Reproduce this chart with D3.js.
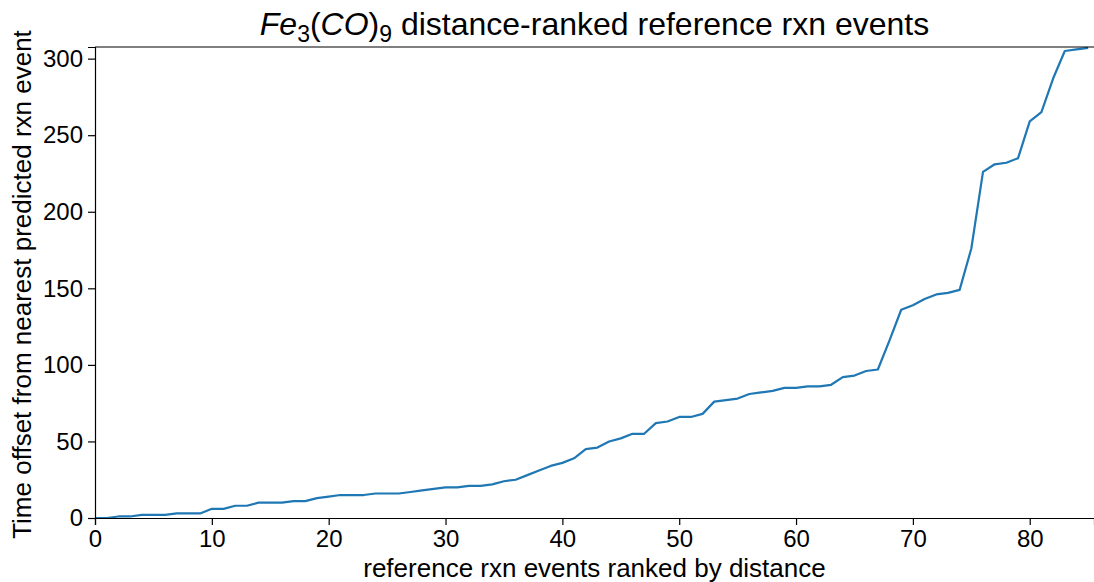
<!DOCTYPE html>
<html>
<head>
<meta charset="utf-8">
<script src="https://cdn.jsdelivr.net/npm/d3@7"></script>
<style>
  body { margin: 0; background: #fff; }
  svg { font-family: "Liberation Sans", Arial, sans-serif; }
</style>
</head>
<body>
<script>
const w = 1094;
const h = 582;

// time offsets, one per ranked reference event (index = rank)
const offsets = [
  0, 0, 1, 1, 2, 2, 2, 3, 3, 3,
  6, 6, 8, 8, 10, 10, 10, 11, 11, 13,
  14, 15, 15, 15, 16, 16, 16, 17, 18, 19,
  20, 20, 21, 21, 22, 24, 25, 28, 31, 34,
  36, 39, 45, 46, 50, 52, 55, 55, 62, 63,
  66, 66, 68, 76, 77, 78, 81, 82, 83, 85,
  85, 86, 86, 87, 92, 93, 96, 97, 116, 136,
  139, 143, 146, 147, 149, 176, 226, 231, 232, 235,
  259, 265, 287, 305, 306, 307
];
const xTicks = [0, 10, 20, 30, 40, 50, 60, 70, 80];
const yTicks = [0, 50, 100, 150, 200, 250, 300];

const data = offsets.map((v, i) => ({ rank: i, offset: v }));

const margin = { top: 47, right: 0, bottom: 64, left: 95 };

const svg = d3
  .select("body")
  .append("svg")
  .attr("width", w)
  .attr("height", h);

const xScale = d3
  .scaleLinear()
  .domain([0, 85.5])
  .range([margin.left, w - margin.right]);
const yScale = d3
  .scaleLinear()
  .domain([0, 307.6])
  .range([h - margin.bottom, margin.top]);

svg
  .append("defs")
  .append("clipPath")
  .attr("id", "plot-clip")
  .append("rect")
  .attr("x", margin.left)
  .attr("y", margin.top - 2)
  .attr("width", w - margin.left)
  .attr("height", h - margin.bottom - margin.top + 4);

const line = d3
  .line()
  .x((d) => xScale(d.rank))
  .y((d) => yScale(d.offset));

svg
  .append("path")
  .datum(data)
  .attr("clip-path", "url(#plot-clip)")
  .attr("fill", "none")
  .attr("stroke", "#1f77b4")
  .attr("stroke-width", 2.2)
  .attr("stroke-linejoin", "round")
  .attr("d", line);

const xAxis = d3.axisBottom(xScale).tickValues(xTicks).tickSize(7).tickPadding(5);
const yAxis = d3.axisLeft(yScale).tickValues(yTicks).tickSize(7).tickPadding(5);

const gx = svg
  .append("g")
  .attr("transform", `translate(0, ${h - margin.bottom})`)
  .call(xAxis);
const gy = svg
  .append("g")
  .attr("transform", `translate(${margin.left}, 0)`)
  .call(yAxis);

[gx, gy].forEach((g) => {
  g.selectAll("text")
    .attr("fill", "#000")
    .style("font-size", "24px")
    .style("font-family", "'Liberation Sans', Arial, sans-serif");
  g.selectAll("line").attr("stroke", "#000").attr("stroke-width", 1.2);
  g.select(".domain").attr("stroke", "#000").attr("stroke-width", 1.2);
});

// top spine
svg
  .append("line")
  .attr("x1", margin.left)
  .attr("x2", w)
  .attr("y1", margin.top)
  .attr("y2", margin.top)
  .attr("stroke", "#000")
  .attr("stroke-width", 1.2);

// title with mathtext-style italics and subscripts
const title = svg
  .append("text")
  .attr("x", (margin.left + w) / 2)
  .attr("y", 35)
  .attr("text-anchor", "middle")
  .style("font-size", "32px")
  .attr("fill", "#000");
title.append("tspan").attr("font-style", "italic").text("Fe");
title.append("tspan").attr("dy", 7).style("font-size", "23px").text("3");
title.append("tspan").attr("dy", -7).text("(");
title.append("tspan").attr("font-style", "italic").text("CO");
title.append("tspan").text(")");
title.append("tspan").attr("dy", 7).style("font-size", "23px").text("9");
title.append("tspan").attr("dy", -7).text(" distance-ranked reference rxn events");

svg
  .append("text")
  .attr("x", (margin.left + w) / 2)
  .attr("y", 577)
  .attr("text-anchor", "middle")
  .style("font-size", "26px")
  .attr("fill", "#000")
  .text("reference rxn events ranked by distance");

svg
  .append("text")
  .attr("transform", `translate(31, ${(margin.top + h - margin.bottom) / 2 + 2}) rotate(-90)`)
  .attr("text-anchor", "middle")
  .style("font-size", "26px")
  .attr("fill", "#000")
  .text("Time offset from nearest predicted rxn event");
</script>
</body>
</html>
